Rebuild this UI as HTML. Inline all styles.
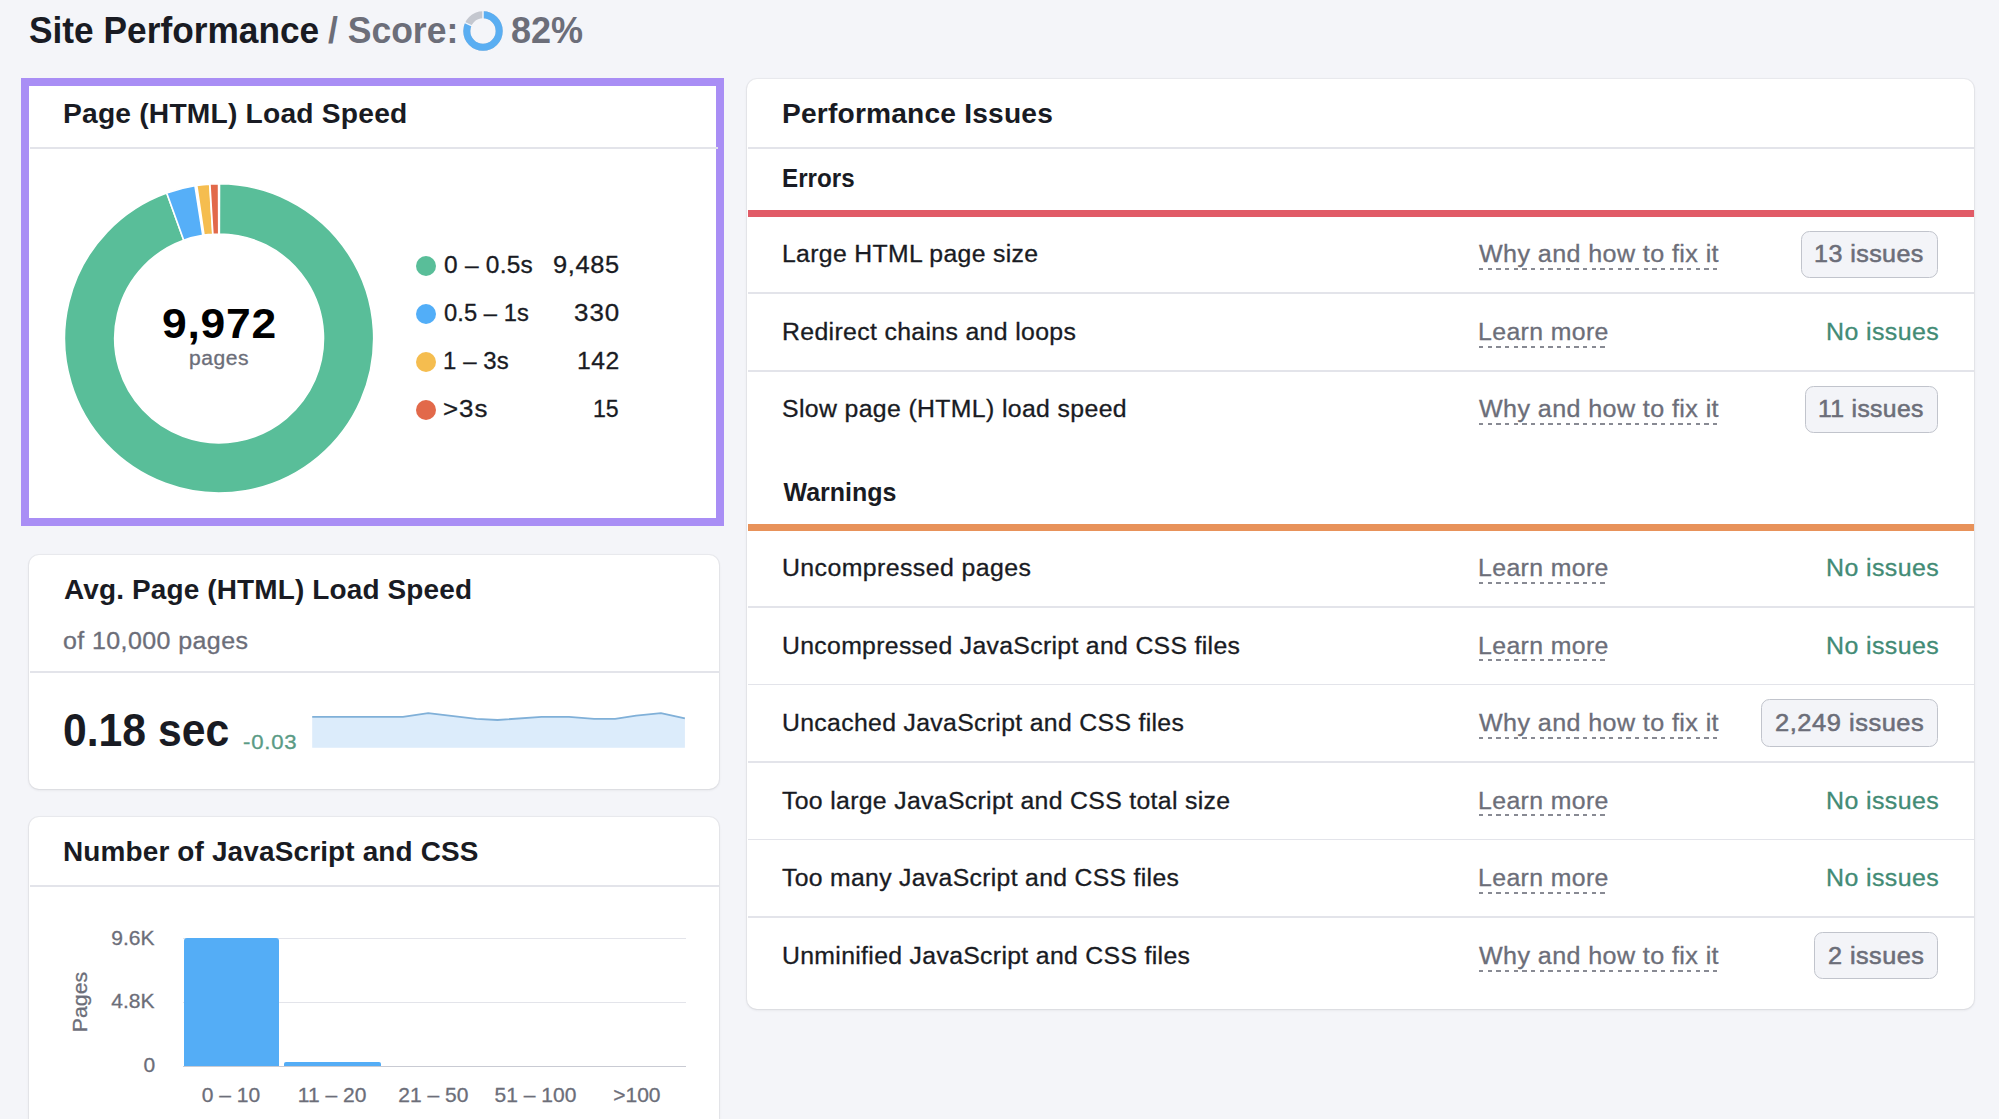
<!DOCTYPE html>
<html lang="en"><head><meta charset="utf-8"><title>Site Performance</title>
<style>
html,body{margin:0;padding:0}
body{width:1999px;height:1119px;overflow:hidden;position:relative;background:#f4f5f9;font-family:"Liberation Sans",sans-serif}
.abs{position:absolute;box-sizing:content-box}
.t{position:absolute;white-space:pre;line-height:1;margin:0;transform-origin:0 50%}
.card{position:absolute;background:#fff;border-radius:10px;box-shadow:0 0 0 1px rgba(25,27,35,.04),0 1px 3px rgba(25,27,35,.10)}
.hl{position:absolute;height:1.5px;background:#e3e4ea}
.dash{position:absolute;height:2px;background:repeating-linear-gradient(90deg,#888a93 0,#888a93 4.4px,transparent 4.4px,transparent 8.67px)}
.btn{position:absolute;box-sizing:border-box;background:#f3f4f8;border:1.7px solid #c1c4cc;border-radius:8.5px}
</style></head><body>
<header>
<div class="t " style="left:29.01px;top:12.00px;font-size:37px;color:#191b23;font-weight:700;transform:scaleX(0.9535);">Site Performance</div>
<div class="t " style="left:327.68px;top:12.00px;font-size:37px;color:#6c6e79;font-weight:700;transform:scaleX(0.9596);">/ Score:</div>
<div class="t " style="left:510.88px;top:12.00px;font-size:37px;color:#6c6e79;font-weight:700;transform:scaleX(0.9732);">82%</div>
<svg class="abs" style="left:461.4px;top:9.0px" width="44" height="44" viewBox="-22 -22 44 44"><circle r="16.2" fill="none" stroke="#c4c7cf" stroke-width="7.0"/><circle r="16.2" fill="none" stroke="#5aaef2" stroke-width="7.0" stroke-dasharray="83.47 101.79" transform="rotate(-90)"/><line x1="0" y1="-11" x2="0" y2="-21" stroke="#f4f5f9" stroke-width="1.5"/><line x1="0" y1="-11" x2="0" y2="-21" stroke="#f4f5f9" stroke-width="1.5" transform="rotate(-64.8)"/></svg>
</header><main>
<section aria-label="Page (HTML) Load Speed">
<div class="card" style="left:29px;top:85px;width:690px;height:435px;border-radius:0"></div>
<div class="abs" style="left:21.2px;top:77.5px;width:687.2px;height:432px;border:8.8px solid #a98ef5;"></div>
<div class="hl" style="left:30px;top:147px;width:688px"></div>
<div class="t " style="left:63.14px;top:100.00px;font-size:27.5px;color:#191b23;font-weight:700;letter-spacing:0.205px;transform:scaleX(1.0250);">Page (HTML) Load Speed</div>
<svg class="abs" style="left:0;top:0" width="760" height="560" viewBox="0 0 760 560"><path d="M219.50 183.80A154.6 154.6 0 1 1 166.73 192.94L183.74 240.17A104.4 104.4 0 1 0 219.37 234.00Z" fill="#59be99" stroke="#fff" stroke-width="1.6" stroke-linejoin="round"/><path d="M166.73 192.94A154.6 154.6 0 0 1 194.92 185.70L202.77 235.29A104.4 104.4 0 0 0 183.74 240.17Z" fill="#56aff8" stroke="#fff" stroke-width="1.6" stroke-linejoin="round"/><path d="M196.78 185.42A154.6 154.6 0 0 1 209.66 184.09L212.73 234.19A104.4 104.4 0 0 0 204.03 235.09Z" fill="#f5bd4f" stroke="#fff" stroke-width="1.6" stroke-linejoin="round"/><path d="M209.93 184.07A154.6 154.6 0 0 1 218.56 183.80L218.74 234.00A104.4 104.4 0 0 0 212.91 234.18Z" fill="#e2694a" stroke="#fff" stroke-width="1.6" stroke-linejoin="round"/></svg>
<div class="t " style="left:162.09px;top:303.00px;font-size:42px;color:#000;font-weight:700;letter-spacing:0.743px;transform:scaleX(1.0572);">9,972</div>
<div class="t " style="left:189.25px;top:349.00px;font-size:19.5px;color:#6c6e79;-webkit-text-stroke:0.3px;letter-spacing:0.511px;transform:scaleX(1.0802);">pages</div>
<div class="abs" style="left:416.2px;top:256.0px;width:20.2px;height:20.2px;border-radius:50%;background:#59be99"></div>
<div class="t " style="left:443.55px;top:254.00px;font-size:23.5px;color:#191b23;-webkit-text-stroke:0.3px;letter-spacing:0.243px;transform:scaleX(1.0401);">0 – 0.5s</div>
<div class="t " style="left:553.13px;top:254.00px;font-size:23.5px;color:#191b23;-webkit-text-stroke:0.3px;letter-spacing:0.578px;transform:scaleX(1.0819);">9,485</div>
<div class="abs" style="left:416.2px;top:304.2px;width:20.2px;height:20.2px;border-radius:50%;background:#52aef8"></div>
<div class="t " style="left:443.57px;top:302.00px;font-size:23.5px;color:#191b23;-webkit-text-stroke:0.3px;letter-spacing:0.062px;transform:scaleX(1.0099);">0.5 – 1s</div>
<div class="t " style="left:573.92px;top:302.00px;font-size:23.5px;color:#191b23;-webkit-text-stroke:0.3px;letter-spacing:0.935px;transform:scaleX(1.1023);">330</div>
<div class="abs" style="left:416.2px;top:352.0px;width:20.2px;height:20.2px;border-radius:50%;background:#f5bd4f"></div>
<div class="t " style="left:442.68px;top:350.00px;font-size:23.5px;color:#191b23;-webkit-text-stroke:0.3px;letter-spacing:0.111px;transform:scaleX(1.0171);">1 – 3s</div>
<div class="t " style="left:577.33px;top:350.00px;font-size:23.5px;color:#191b23;-webkit-text-stroke:0.3px;letter-spacing:0.461px;transform:scaleX(1.0496);">142</div>
<div class="abs" style="left:416.2px;top:400.1px;width:20.2px;height:20.2px;border-radius:50%;background:#e2694a"></div>
<div class="t " style="left:443.23px;top:398.00px;font-size:23.5px;color:#191b23;-webkit-text-stroke:0.3px;letter-spacing:0.900px;transform:scaleX(1.1006);">&gt;3s</div>
<div class="t " style="left:593.44px;top:398.00px;font-size:23.5px;color:#191b23;-webkit-text-stroke:0.3px;transform:scaleX(0.9836);">15</div>
</section>
<section aria-label="Avg. Page (HTML) Load Speed">
<div class="card" style="left:29px;top:555.3px;width:690.2px;height:234.2px"></div>
<div class="t " style="left:64.33px;top:576.00px;font-size:27.5px;color:#191b23;font-weight:700;letter-spacing:0.135px;transform:scaleX(1.0168);">Avg. Page (HTML) Load Speed</div>
<div class="t " style="left:62.95px;top:630.00px;font-size:23.5px;color:#6c6e79;-webkit-text-stroke:0.3px;letter-spacing:0.382px;transform:scaleX(1.0634);">of 10,000 pages</div>
<div class="hl" style="left:30px;top:671px;width:689px"></div>
<div class="t " style="left:63.33px;top:708.00px;font-size:45.5px;color:#191b23;font-weight:700;transform:scaleX(0.9385);">0.18 sec</div>
<div class="t " style="left:242.63px;top:733.00px;font-size:19.5px;color:#5a9b85;-webkit-text-stroke:0.3px;letter-spacing:0.690px;transform:scaleX(1.1362);">-0.03</div>
<svg class="abs" style="left:300px;top:700px" width="400" height="60" viewBox="0 0 400 60"><polygon points="12.2,16.9 102.9,16.9 128.2,13.1 151.3,15.8 176.5,18.8 197.5,20.0 241.6,16.9 268.9,16.9 294.1,18.8 315.1,18.8 336.1,15.6 360.9,13.1 384.9,18.4 384.9,47.8 12.2,47.8" fill="#dcecfb"/><polyline points="12.2,16.9 102.9,16.9 128.2,13.1 151.3,15.8 176.5,18.8 197.5,20.0 241.6,16.9 268.9,16.9 294.1,18.8 315.1,18.8 336.1,15.6 360.9,13.1 384.9,18.4" fill="none" stroke="#80b0d8" stroke-width="1.8" stroke-linejoin="round"/></svg>
</section>
<section aria-label="Number of JavaScript and CSS">
<div class="card" style="left:29px;top:817px;width:690.2px;height:340px"></div>
<div class="t " style="left:63.15px;top:838.00px;font-size:27.5px;color:#191b23;font-weight:700;letter-spacing:0.133px;transform:scaleX(1.0168);">Number of JavaScript and CSS</div>
<div class="hl" style="left:30px;top:885px;width:689px"></div>
<div class="abs" style="left:183px;top:937.5px;width:503px;height:1.3px;background:#e3e4ea"></div>
<div class="abs" style="left:183px;top:1001.5px;width:503px;height:1.3px;background:#e3e4ea"></div>
<div class="abs" style="left:183px;top:1065.5px;width:503px;height:1.5px;background:#c9cbd3"></div>
<div class="abs" style="left:183.6px;top:938.2px;width:95.3px;height:128.1px;background:#54adf6;border-radius:3px 3px 0 0"></div>
<div class="abs" style="left:284.4px;top:1062.4px;width:96.9px;height:3.9px;background:#54adf6;border-radius:2px 2px 0 0"></div>
<div class="t " style="left:111.33px;top:927.00px;font-size:21px;color:#6c6e79;-webkit-text-stroke:0.3px;">9.6K</div>
<div class="t " style="left:111.33px;top:990.00px;font-size:21px;color:#6c6e79;-webkit-text-stroke:0.3px;">4.8K</div>
<div class="t " style="left:143.42px;top:1054.00px;font-size:21px;color:#6c6e79;-webkit-text-stroke:0.3px;">0</div>
<div class="t" style="left:80px;top:1001.7px;font-size:20.5px;-webkit-text-stroke:0.3px;color:#6c6e79;transform:translate(-50%,-50%) rotate(-90deg) scaleX(1.04);transform-origin:50% 50%">Pages</div>
<div class="t" style="left:201.80px;top:1084.00px;font-size:21px;-webkit-text-stroke:0.3px;color:#6c6e79">0 – 10</div>
<div class="t" style="left:297.85px;top:1084.00px;font-size:21px;-webkit-text-stroke:0.3px;color:#6c6e79">11 – 20</div>
<div class="t" style="left:398.35px;top:1084.00px;font-size:21px;-webkit-text-stroke:0.3px;color:#6c6e79">21 – 50</div>
<div class="t" style="left:494.61px;top:1084.00px;font-size:21px;-webkit-text-stroke:0.3px;color:#6c6e79">51 – 100</div>
<div class="t" style="left:613.24px;top:1084.00px;font-size:21px;-webkit-text-stroke:0.3px;color:#6c6e79">&gt;100</div>
</section>
<section aria-label="Performance Issues">
<div class="card" style="left:747px;top:79px;width:1226.5px;height:929.5px"></div>
<div class="t " style="left:782.14px;top:100.00px;font-size:27.5px;color:#191b23;font-weight:700;letter-spacing:0.188px;transform:scaleX(1.0235);">Performance Issues</div>
<div class="hl" style="left:747.5px;top:147px;width:1226px"></div>
<div class="t " style="left:782.40px;top:166.00px;font-size:25px;color:#191b23;font-weight:700;transform:scaleX(0.9672);">Errors</div>
<div class="abs" style="left:747.5px;top:210px;width:1226px;height:6.6px;background:#e15b67"></div>
<div class="t " style="left:783.47px;top:480.00px;font-size:25px;color:#191b23;font-weight:700;">Warnings</div>
<div class="abs" style="left:747.5px;top:524px;width:1226px;height:6.7px;background:#e8925a"></div>
<div class="t " style="left:782.00px;top:243.00px;font-size:23.5px;color:#191b23;-webkit-text-stroke:0.3px;letter-spacing:0.334px;transform:scaleX(1.0530);">Large HTML page size</div>
<div class="t " style="left:1479.40px;top:243.00px;font-size:23.5px;color:#6c6e79;-webkit-text-stroke:0.3px;letter-spacing:0.373px;transform:scaleX(1.0683);">Why and how to fix it</div>
<div class="dash" style="left:1478.6px;top:268px;width:240px"></div>
<div class="btn" style="left:1800.5px;top:230.5px;width:137.7px;height:47.2px"></div>
<div class="t " style="left:1814.09px;top:243.00px;font-size:23.5px;color:#6c6e79;letter-spacing:0.408px;transform:scaleX(1.0669);-webkit-text-stroke:0.55px #6c6e79;">13 issues</div>
<div class="hl" style="left:747.5px;top:292.3px;width:1226px"></div>
<div class="t " style="left:782.00px;top:321.00px;font-size:23.5px;color:#191b23;-webkit-text-stroke:0.3px;letter-spacing:0.322px;transform:scaleX(1.0566);">Redirect chains and loops</div>
<div class="t " style="left:1478.47px;top:321.00px;font-size:23.5px;color:#6c6e79;-webkit-text-stroke:0.3px;letter-spacing:0.371px;transform:scaleX(1.0559);">Learn more</div>
<div class="dash" style="left:1478.6px;top:346px;width:129.4px"></div>
<div class="t " style="left:1825.96px;top:321.00px;font-size:23.5px;color:#428b75;-webkit-text-stroke:0.3px;letter-spacing:0.387px;transform:scaleX(1.0607);">No issues</div>
<div class="hl" style="left:747.5px;top:370.0px;width:1226px"></div>
<div class="t " style="left:782.00px;top:398.00px;font-size:23.5px;color:#191b23;-webkit-text-stroke:0.3px;letter-spacing:0.345px;transform:scaleX(1.0558);">Slow page (HTML) load speed</div>
<div class="t " style="left:1479.40px;top:398.00px;font-size:23.5px;color:#6c6e79;-webkit-text-stroke:0.3px;letter-spacing:0.373px;transform:scaleX(1.0683);">Why and how to fix it</div>
<div class="dash" style="left:1478.6px;top:423px;width:240px"></div>
<div class="btn" style="left:1804.5px;top:385.8px;width:133.7px;height:47.2px"></div>
<div class="t " style="left:1818.12px;top:398.00px;font-size:23.5px;color:#6c6e79;letter-spacing:0.320px;transform:scaleX(1.0528);-webkit-text-stroke:0.55px #6c6e79;">11 issues</div>
<div class="t " style="left:782.00px;top:557.00px;font-size:23.5px;color:#191b23;-webkit-text-stroke:0.3px;letter-spacing:0.392px;transform:scaleX(1.0579);">Uncompressed pages</div>
<div class="t " style="left:1478.47px;top:557.00px;font-size:23.5px;color:#6c6e79;-webkit-text-stroke:0.3px;letter-spacing:0.371px;transform:scaleX(1.0559);">Learn more</div>
<div class="dash" style="left:1478.6px;top:582px;width:129.4px"></div>
<div class="t " style="left:1825.96px;top:557.00px;font-size:23.5px;color:#428b75;-webkit-text-stroke:0.3px;letter-spacing:0.387px;transform:scaleX(1.0607);">No issues</div>
<div class="hl" style="left:747.5px;top:606.1px;width:1226px"></div>
<div class="t " style="left:782.00px;top:635.00px;font-size:23.5px;color:#191b23;-webkit-text-stroke:0.3px;letter-spacing:0.319px;transform:scaleX(1.0534);">Uncompressed JavaScript and CSS files</div>
<div class="t " style="left:1478.47px;top:635.00px;font-size:23.5px;color:#6c6e79;-webkit-text-stroke:0.3px;letter-spacing:0.371px;transform:scaleX(1.0559);">Learn more</div>
<div class="dash" style="left:1478.6px;top:659px;width:129.4px"></div>
<div class="t " style="left:1825.96px;top:635.00px;font-size:23.5px;color:#428b75;-webkit-text-stroke:0.3px;letter-spacing:0.387px;transform:scaleX(1.0607);">No issues</div>
<div class="hl" style="left:747.5px;top:683.8px;width:1226px"></div>
<div class="t " style="left:782.00px;top:712.00px;font-size:23.5px;color:#191b23;-webkit-text-stroke:0.3px;letter-spacing:0.319px;transform:scaleX(1.0543);">Uncached JavaScript and CSS files</div>
<div class="t " style="left:1479.40px;top:712.00px;font-size:23.5px;color:#6c6e79;-webkit-text-stroke:0.3px;letter-spacing:0.373px;transform:scaleX(1.0683);">Why and how to fix it</div>
<div class="dash" style="left:1478.6px;top:737px;width:240px"></div>
<div class="btn" style="left:1760.5px;top:699.4px;width:177.7px;height:47.2px"></div>
<div class="t " style="left:1774.73px;top:712.00px;font-size:23.5px;color:#6c6e79;letter-spacing:0.490px;transform:scaleX(1.0834);-webkit-text-stroke:0.55px #6c6e79;">2,249 issues</div>
<div class="hl" style="left:747.5px;top:761.2px;width:1226px"></div>
<div class="t " style="left:782.00px;top:790.00px;font-size:23.5px;color:#191b23;-webkit-text-stroke:0.3px;letter-spacing:0.308px;transform:scaleX(1.0557);">Too large JavaScript and CSS total size</div>
<div class="t " style="left:1478.47px;top:790.00px;font-size:23.5px;color:#6c6e79;-webkit-text-stroke:0.3px;letter-spacing:0.371px;transform:scaleX(1.0559);">Learn more</div>
<div class="dash" style="left:1478.6px;top:814px;width:129.4px"></div>
<div class="t " style="left:1825.96px;top:790.00px;font-size:23.5px;color:#428b75;-webkit-text-stroke:0.3px;letter-spacing:0.387px;transform:scaleX(1.0607);">No issues</div>
<div class="hl" style="left:747.5px;top:838.8px;width:1226px"></div>
<div class="t " style="left:782.00px;top:867.00px;font-size:23.5px;color:#191b23;-webkit-text-stroke:0.3px;letter-spacing:0.309px;transform:scaleX(1.0530);">Too many JavaScript and CSS files</div>
<div class="t " style="left:1478.47px;top:867.00px;font-size:23.5px;color:#6c6e79;-webkit-text-stroke:0.3px;letter-spacing:0.371px;transform:scaleX(1.0559);">Learn more</div>
<div class="dash" style="left:1478.6px;top:892px;width:129.4px"></div>
<div class="t " style="left:1825.96px;top:867.00px;font-size:23.5px;color:#428b75;-webkit-text-stroke:0.3px;letter-spacing:0.387px;transform:scaleX(1.0607);">No issues</div>
<div class="hl" style="left:747.5px;top:916.2px;width:1226px"></div>
<div class="t " style="left:782.00px;top:945.00px;font-size:23.5px;color:#191b23;-webkit-text-stroke:0.3px;letter-spacing:0.308px;transform:scaleX(1.0550);">Unminified JavaScript and CSS files</div>
<div class="t " style="left:1479.40px;top:945.00px;font-size:23.5px;color:#6c6e79;-webkit-text-stroke:0.3px;letter-spacing:0.373px;transform:scaleX(1.0683);">Why and how to fix it</div>
<div class="dash" style="left:1478.6px;top:970px;width:240px"></div>
<div class="btn" style="left:1813.5px;top:932.0px;width:124.7px;height:47.2px"></div>
<div class="t " style="left:1827.74px;top:945.00px;font-size:23.5px;color:#6c6e79;letter-spacing:0.439px;transform:scaleX(1.0728);-webkit-text-stroke:0.55px #6c6e79;">2 issues</div>
</section></main>
</body></html>
